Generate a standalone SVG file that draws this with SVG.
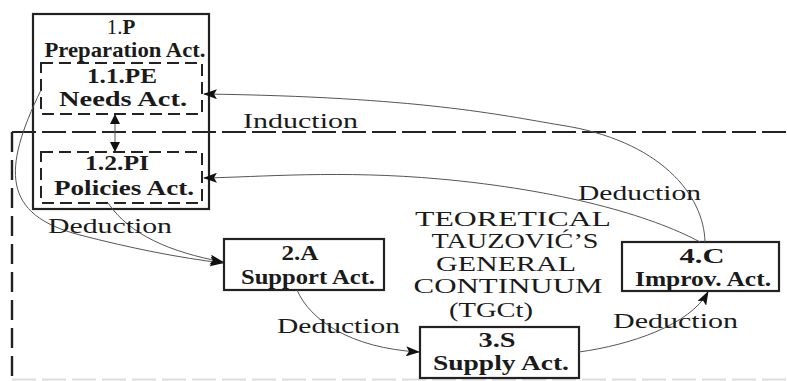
<svg xmlns="http://www.w3.org/2000/svg" width="787" height="381" viewBox="0 0 787 381">
<defs>
<style>
.box{fill:none;stroke:#222;stroke-width:2.2}
.dbox{fill:none;stroke:#222;stroke-width:2;stroke-dasharray:12 6}
.bndh{fill:none;stroke:#222;stroke-width:2.2;stroke-dasharray:24 6}
.bndv{fill:none;stroke:#222;stroke-width:2.4;stroke-dasharray:20 8}
.conn{fill:none;stroke:#555;stroke-width:1}
text{font-family:"Liberation Serif","Times New Roman",serif;fill:#1a1a1a;text-anchor:middle}
.b{font-weight:bold;font-size:22px}
.lbl{font-size:20px}
.tg{font-size:21px}
</style>
<marker id="ah" viewBox="0 0 14 10" refX="13" refY="5" markerWidth="14" markerHeight="10" markerUnits="userSpaceOnUse" orient="auto"><path d="M0,0 L14,5 L0,10 L3,5 z" fill="#111"/></marker>
<marker id="ahs" viewBox="0 0 10 10" refX="9" refY="5" markerWidth="10" markerHeight="10" markerUnits="userSpaceOnUse" orient="auto-start-reverse"><path d="M0,0 L10,5 L0,10 z" fill="#111"/></marker>
</defs>
<rect width="787" height="381" fill="#fff"/>

<g id="boundary">
<path class="bndh" d="M12,132 H787"/>
<path class="bndv" d="M12,132 V381"/>
<path d="M12,379.5 H787" fill="none" stroke="#ddd" stroke-width="2" stroke-dasharray="24 6"/>
</g>

<g id="node-1P">
<rect class="box" x="33" y="14" width="176" height="195"/>
<text x="121" y="34" style="font-size:21px">1.<tspan font-weight="bold">P</tspan></text>
<text class="b" x="125" y="57" style="font-size:21px" textLength="161" lengthAdjust="spacingAndGlyphs">Preparation Act.</text>
</g>

<g id="node-1-1-PE">
<rect class="dbox" x="41" y="63" width="161" height="51"/>
<text class="b" x="122" y="83" textLength="70" lengthAdjust="spacingAndGlyphs">1.1.PE</text>
<text class="b" x="123" y="106" textLength="128" lengthAdjust="spacingAndGlyphs">Needs Act.</text>
</g>

<g id="node-1-2-PI">
<rect class="dbox" x="41" y="152" width="161" height="51"/>
<text class="b" x="117" y="170" textLength="64" lengthAdjust="spacingAndGlyphs">1.2.PI</text>
<text class="b" x="124" y="195" textLength="140" lengthAdjust="spacingAndGlyphs">Policies Act.</text>
</g>

<g id="node-2A">
<rect class="box" x="224" y="239" width="160" height="51" fill="#fff"/>
<text class="b" x="300" y="260" textLength="37" lengthAdjust="spacingAndGlyphs">2.A</text>
<text class="b" x="308" y="284" textLength="134" lengthAdjust="spacingAndGlyphs">Support Act.</text>
</g>

<g id="node-3S">
<rect class="box" x="420" y="327" width="159" height="51" fill="#fff"/>
<text class="b" x="497" y="347" textLength="37" lengthAdjust="spacingAndGlyphs">3.S</text>
<text class="b" x="501" y="370" textLength="136" lengthAdjust="spacingAndGlyphs">Supply Act.</text>
</g>

<g id="node-4C">
<rect class="box" x="622" y="242" width="157" height="49" fill="#fff"/>
<text class="b" x="702" y="263" textLength="45" lengthAdjust="spacingAndGlyphs">4.C</text>
<text class="b" x="703" y="286" textLength="136" lengthAdjust="spacingAndGlyphs">Improv. Act.</text>
</g>

<g id="tgct">
<text class="tg" x="513" y="225.5" textLength="196" lengthAdjust="spacingAndGlyphs">TEORETICAL</text>
<text class="tg" x="515" y="248" textLength="167" lengthAdjust="spacingAndGlyphs">TAUZOVIĆ’S</text>
<text class="tg" x="506" y="270.5" textLength="140" lengthAdjust="spacingAndGlyphs">GENERAL</text>
<text class="tg" x="508" y="293" textLength="189" lengthAdjust="spacingAndGlyphs">CONTINUUM</text>
<text class="tg" x="491" y="317" textLength="84" lengthAdjust="spacingAndGlyphs">(TGCt)</text>
</g>

<g id="connectors">
<path class="conn" d="M41,90 C2,170 2,215 80,235 C130,248 180,258 223,263" marker-end="url(#ah)"/>
<path class="conn" d="M108,203 C130,235 170,252 223,262" marker-end="url(#ah)"/>
<path class="conn" d="M297,290 C310,320 350,348 419,352" marker-end="url(#ah)"/>
<path class="conn" d="M579,352 C630,345 690,325 708,292" marker-end="url(#ah)"/>
<path class="conn" d="M705,242 C704,195 660,140 560,125 C500,115 420,97 204,94" marker-end="url(#ah)"/>
<path class="conn" d="M700,242 C650,215 560,190 440,179 C340,170 260,177 204,178" marker-end="url(#ah)"/>
<path class="conn" d="M115,115 V151" stroke="#222" marker-start="url(#ahs)" marker-end="url(#ahs)"/>
</g>

<g id="labels">
<text class="lbl" x="300.5" y="128" textLength="115" lengthAdjust="spacingAndGlyphs">Induction</text>
<text class="lbl" x="110" y="233" textLength="124" lengthAdjust="spacingAndGlyphs">Deduction</text>
<text class="lbl" x="338.5" y="333" textLength="123" lengthAdjust="spacingAndGlyphs">Deduction</text>
<text class="lbl" x="675.5" y="328" textLength="125" lengthAdjust="spacingAndGlyphs">Deduction</text>
<text class="lbl" x="639.5" y="200" textLength="123" lengthAdjust="spacingAndGlyphs">Deduction</text>
</g>
</svg>
